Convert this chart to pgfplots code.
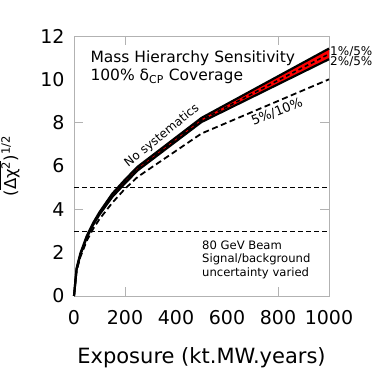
\documentclass[border=0pt]{standalone}
\usepackage{pgfplots}
\pgfplotsset{compat=1.18}
\usepgfplotslibrary{fillbetween}
\usepackage{fontspec}
\setmainfont{DejaVu Sans}
\newcommand{\fs}[1]{\fontsize{#1bp}{#1bp}\selectfont}

\begin{document}
\begin{tikzpicture}
\begin{axis}[
    at={(74bp,78bp)}, anchor=south west,
    scale only axis,
    width=255bp, height=260bp,
    xmin=0, xmax=1000, ymin=0, ymax=12,
    xtick={0,200,...,1000}, ytick={0,2,...,12},
    major tick length=0pt,
    extra x ticks={200,800}, extra x tick labels={},
    extra y ticks={4,8}, extra y tick labels={},
    extra x tick style={major tick length=9bp},
    extra y tick style={major tick length=9bp},
    tick style={gray!60, line width=0.8pt},
    axis line style={gray!60, line width=0.8pt},
    /pgf/number format/assume math mode=true,
    /pgf/number format/1000 sep={},
    tick label style={font=\fs{19}},
    xticklabel style={yshift=-11bp},
    yticklabel style={xshift=-6bp},
    xlabel={Exposure (kt.MW.years)},
    xlabel style={font=\fs{21}},
    xlabel shift=16bp,
    ylabel={(\ensuremath{\overline{\mbox{Δχ\textsuperscript{2}}}})\textsuperscript{1/2}},
    ylabel style={font=\fs{16.5}},
    ylabel shift=14bp,
    clip=false,
]

% reference levels
\addplot[black, line width=0.8pt, dash pattern=on 5bp off 3bp] coordinates {(0,5) (1000,5)};
\addplot[black, line width=0.8pt, dash pattern=on 5bp off 3bp] coordinates {(0,3) (1000,3)};

% 5%/10%
\addplot[black, line width=1.8pt, dash pattern=on 6bp off 3.5bp] coordinates {
(0,0) (10,1.15) (25,1.8) (50,2.55) (75,3.1) (100,3.55) (150,4.3) (200,4.95) (250,5.5) (500,7.5) (1000,10.0)
};

% band: no systematics / 2%/5%
\addplot[name path=up, black, line width=2.2pt] coordinates {
(0,0) (10,1.27) (25,1.97) (50,2.77) (75,3.37) (100,3.87) (150,4.72) (200,5.37) (250,5.97) (500,8.22) (1000,11.42)
};
\addplot[name path=lo, black, line width=2.2pt] coordinates {
(0,0) (10,1.22) (25,1.9) (50,2.7) (75,3.28) (100,3.76) (150,4.57) (200,5.2) (250,5.8) (500,8.03) (1000,10.93)
};
\addplot[red] fill between[of=up and lo];
\addplot[black, line width=1.6pt, dash pattern=on 4bp off 3bp] coordinates {
(0,0) (10,1.25) (25,1.93) (50,2.73) (75,3.32) (100,3.81) (150,4.64) (200,5.28) (250,5.88) (500,8.12) (1000,11.17)
};

\node[anchor=west, font=\fs{15.5}] at (axis cs:51,10.98) {Mass Hierarchy Sensitivity};
\node[anchor=west, font=\fs{15.5}] at (axis cs:51,10.15) {100\% δ\textsubscript{CP} Coverage};
\node[rotate=39, font=\fs{12}] at (axis cs:345,7.38) {No systematics};
\node[rotate=22, font=\fs{13}] at (axis cs:796,8.5) {5\%/10\%};
\node[anchor=west, inner sep=0pt, font=\fs{12}] at (axis cs:1004,11.3) {1\%/5\%};
\node[anchor=west, inner sep=0pt, font=\fs{12}] at (axis cs:1004,10.8) {2\%/5\%};
\node[anchor=west, inner sep=0pt, font=\fs{11.6}] at (axis cs:502,2.35) {80 GeV Beam};
\node[anchor=west, inner sep=0pt, font=\fs{11.6}] at (axis cs:502,1.7) {Signal/background};
\node[anchor=west, inner sep=0pt, font=\fs{11.6}] at (axis cs:502,1.06) {uncertainty varied};
\end{axis}
\pgfresetboundingbox
\path[use as bounding box] (0,0) rectangle (374bp,374bp);
\end{tikzpicture}
\end{document}
